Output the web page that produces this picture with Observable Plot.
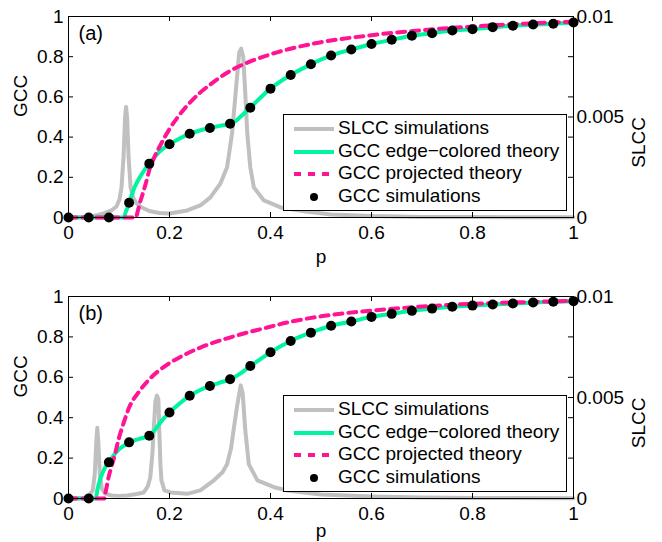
<!DOCTYPE html>
<html>
<head>
<meta charset="utf-8">
<script src="https://cdn.jsdelivr.net/npm/d3@7"></script>
<script src="https://cdn.jsdelivr.net/npm/@observablehq/plot@0.6"></script>
<style>
  body { margin: 0; background: #fff; font-family: "Liberation Sans", Arial, Helvetica, sans-serif; }
  #chart { width: 662px; }
  .panel { position: relative; width: 662px; height: 271px; }
  .legend { position: absolute; background: #fff; border: 1px solid #000; box-sizing: border-box; font-size: 19px; color: #000; }
  .legend svg { position: absolute; left: 0; top: 0; }
  .legend span { position: absolute; left: 54px; white-space: nowrap; line-height: 22px; }
</style>
</head>
<body>
<div id="chart"></div>
<script>
// ---------- shared axis values ----------
const xTicks = [0, 0.2, 0.4, 0.6, 0.8, 1];
const gccTicks = [0, 0.2, 0.4, 0.6, 0.8, 1];
const slccTicks = [0, 0.005, 0.01];
const slccMax = 0.01;   // right axis top
const gccMax = 1;       // left axis top
const axisTitles = {x: "p", left: "GCC", right: "SLCC"};
const legendLabels = ["SLCC simulations", "GCC edge\u2212colored theory", "GCC projected theory", "GCC simulations"];
const colors = { slcc: "#c0c0c0", edge: "#00f5a0", proj: "#ff1493", dots: "#000000" };

// ---------- panel (a) ----------
const simP = [0,0.04,0.08,0.12,0.16,0.20,0.24,0.28,0.32,0.36,0.40,0.44,0.48,0.52,0.56,0.60,0.64,0.68,0.72,0.76,0.80,0.84,0.88,0.92,0.96,1.00];
const aSimGCC = [0,0,0,0.073,0.268,0.364,0.417,0.445,0.467,0.546,0.641,0.709,0.762,0.806,0.836,0.863,0.884,0.904,0.917,0.93,0.937,0.947,0.954,0.96,0.964,0.97];

const aEdgeP   = [0,0.11,0.113,0.117,0.12,0.125,0.13,0.14,0.15,0.16,0.17,0.18,0.19,0.20,0.22,0.24,0.26,0.28,0.30,0.32,0.33,0.34,0.36,0.38,0.40,0.44,0.48,0.52,0.56,0.60,0.64,0.68,0.72,0.76,0.80,0.84,0.88,0.92,0.96,1.00];
const aEdgeGCC = [0,0,0.025,0.05,0.073,0.11,0.145,0.195,0.235,0.268,0.3,0.327,0.348,0.364,0.393,0.417,0.433,0.445,0.456,0.467,0.478,0.5,0.546,0.596,0.641,0.709,0.762,0.806,0.836,0.863,0.884,0.904,0.917,0.93,0.937,0.947,0.954,0.96,0.964,0.97];

const aProjP   = [0,0.134,0.1355,0.138,0.141,0.146,0.152,0.16,0.17,0.182,0.20,0.215,0.238,0.26,0.28,0.314,0.347,0.386,0.426,0.50,0.60,0.70,0.80,0.90,1.00];
const aProjGCC = [0,0,0.015,0.04,0.07,0.11,0.16,0.235,0.3,0.36,0.44,0.495,0.565,0.62,0.66,0.72,0.763,0.8,0.831,0.872,0.907,0.932,0.95,0.964,0.974];

const aSlccP = [0,0.03,0.05,0.07,0.085,0.095,0.101,0.105,0.109,0.112,0.114,0.116,0.119,0.123,0.128,0.135,0.145,0.16,0.18,0.20,0.235,0.261,0.281,0.301,0.314,0.324,0.332,0.338,0.342,0.346,0.35,0.354,0.36,0.367,0.387,0.42,0.47,0.52,0.60,0.70,0.80,1.00];
const aSlcc  = [0,0.00002,0.00008,0.0002,0.00035,0.00055,0.0009,0.0015,0.003,0.005,0.0055,0.005,0.003,0.0015,0.001,0.0007,0.0005,0.00032,0.00022,0.0002,0.00035,0.0006,0.001,0.0017,0.0025,0.0042,0.0065,0.0082,0.0084,0.008,0.0062,0.0042,0.0025,0.0015,0.00085,0.0005,0.0003,0.00015,0.00007,0.00003,0.00002,0.00001];

// ---------- panel (b) ----------
const bSimGCC = [0,0,0.179,0.278,0.311,0.426,0.509,0.557,0.59,0.656,0.724,0.78,0.821,0.855,0.876,0.899,0.914,0.929,0.94,0.949,0.955,0.96,0.965,0.97,0.974,0.977];

const bEdgeP   = [0,0.054,0.057,0.062,0.068,0.074,0.08,0.09,0.10,0.11,0.12,0.14,0.16,0.17,0.18,0.20,0.22,0.24,0.26,0.28,0.30,0.32,0.34,0.36,0.38,0.40,0.44,0.48,0.52,0.56,0.60,0.64,0.68,0.72,0.76,0.80,0.84,0.88,0.92,0.96,1.00];
const bEdgeGCC = [0,0,0.04,0.09,0.13,0.16,0.179,0.215,0.243,0.262,0.278,0.295,0.311,0.335,0.37,0.426,0.47,0.509,0.536,0.557,0.574,0.59,0.618,0.656,0.69,0.724,0.78,0.821,0.855,0.876,0.899,0.914,0.929,0.94,0.949,0.955,0.96,0.965,0.97,0.974,0.977];

const bProjP   = [0,0.071,0.0725,0.075,0.078,0.083,0.09,0.10,0.11,0.12,0.14,0.16,0.18,0.20,0.23,0.26,0.30,0.34,0.38,0.44,0.50,0.60,0.70,0.80,0.90,1.00];
const bProjGCC = [0,0,0.02,0.05,0.09,0.14,0.2,0.3,0.38,0.45,0.53,0.59,0.635,0.67,0.712,0.746,0.782,0.812,0.838,0.875,0.902,0.93,0.95,0.964,0.972,0.978];

const bSlccP = [0,0.03,0.04,0.048,0.052,0.055,0.057,0.059,0.062,0.066,0.072,0.085,0.10,0.116,0.135,0.149,0.157,0.162,0.166,0.169,0.172,0.175,0.178,0.18,0.182,0.184,0.19,0.202,0.235,0.261,0.288,0.305,0.314,0.322,0.327,0.334,0.341,0.345,0.35,0.357,0.374,0.407,0.433,0.50,0.60,0.70,0.80,1.00];
const bSlcc  = [0,0.00003,0.0001,0.0004,0.0012,0.0028,0.0035,0.0028,0.0012,0.0005,0.00025,0.00015,0.00013,0.00015,0.00022,0.0003,0.0006,0.00105,0.0022,0.0035,0.0048,0.0051,0.0049,0.0032,0.0017,0.0009,0.0004,0.0003,0.00023,0.0004,0.0009,0.0013,0.0017,0.0025,0.0034,0.0046,0.0056,0.0052,0.0034,0.0017,0.0009,0.00056,0.0004,0.0002,0.0001,0.00005,0.00003,0.00001];

// ---------- helpers ----------
const zip = (xs, ys) => xs.map((p, i) => ({p, v: ys[i]}));
const FONT = "'Liberation Sans', Arial, Helvetica, sans-serif";
const FS = 19;
const dash = "8,6";

function makePanel(tag, slcc, edge, proj, sim, marginTop, marginBottom, pOffset) {
  const k = gccMax / slccMax;
  return Plot.plot({
    width: 662,
    height: 271,
    marginLeft: 68,
    marginRight: 89,
    marginTop,
    marginBottom,
    x: {domain: [0, 1]},
    y: {domain: [0, gccMax]},
    style: {fontFamily: FONT, fontSize: FS + "px", color: "#000", background: "#fff", overflow: "visible"},
    marks: [
      Plot.line(slcc, {x: "p", y: d => d.v * k, stroke: colors.slcc, strokeWidth: 4, strokeLinejoin: "round"}),
      Plot.line(edge, {x: "p", y: "v", stroke: colors.edge, strokeWidth: 4, curve: "monotone-x"}),
      Plot.line(proj, {x: "p", y: "v", stroke: colors.proj, strokeWidth: 4, strokeDasharray: dash, curve: "monotone-x"}),
      Plot.dot(sim, {x: "p", y: "v", r: 5, fill: colors.dots, stroke: null}),
      Plot.frame({stroke: "#000", strokeWidth: 1}),
      // inward tick marks (MATLAB style box)
      Plot.ruleX(xTicks, {x: d => d, y1: 0, y2: 0.025, stroke: "#000"}),
      Plot.ruleX(xTicks, {x: d => d, y1: gccMax, y2: gccMax * 0.975, stroke: "#000"}),
      Plot.ruleY(gccTicks, {y: d => d, x1: 0, x2: 0.01, stroke: "#000"}),
      Plot.ruleY(gccTicks, {y: d => d, x1: 1, x2: 0.99, stroke: "#000"}),
      Plot.ruleY(slccTicks, {y: d => d * k, x1: 1, x2: 0.99, stroke: "#000"}),
      Plot.axisX(xTicks, {anchor: "bottom", tickSize: 0, tickPadding: 8, tickFormat: d => String(d), label: null}),
      Plot.axisY(gccTicks, {anchor: "left", tickSize: 0, tickPadding: 5, tickFormat: d => String(d), label: null}),
      Plot.axisY(slccTicks.map(d => d * k), {anchor: "right", tickSize: 0, tickPadding: 3, tickFormat: (d, i) => String(slccTicks[i]), label: null}),
      Plot.text([axisTitles.x], {frameAnchor: "bottom", dy: pOffset, text: d => d, fontSize: FS, lineAnchor: "middle"}),
      Plot.text([axisTitles.left], {frameAnchor: "left", dx: -48, text: d => d, fontSize: FS, rotate: -90, lineAnchor: "middle"}),
      Plot.text([axisTitles.right], {frameAnchor: "right", dx: 65, text: d => d, fontSize: FS, rotate: -90, lineAnchor: "middle"}),
      Plot.text([tag], {frameAnchor: "top-left", dx: 10, dy: 9, text: d => d, fontSize: FS + 1, lineAnchor: "top"})
    ]
  });
}

function makeLegend(top) {
  const div = document.createElement("div");
  div.className = "legend";
  Object.assign(div.style, {left: "283px", top: top + "px", width: "284px", height: "97px"});
  const rows = [14, 37, 59, 82];
  const svgNS = "http://www.w3.org/2000/svg";
  const svg = document.createElementNS(svgNS, "svg");
  svg.setAttribute("width", 60); svg.setAttribute("height", 95);
  const mk = (name, attrs) => { const e = document.createElementNS(svgNS, name); for (const a in attrs) e.setAttribute(a, attrs[a]); svg.appendChild(e); };
  mk("line", {x1: 10, x2: 50, y1: rows[0], y2: rows[0], stroke: colors.slcc, "stroke-width": 4});
  mk("line", {x1: 10, x2: 50, y1: rows[1], y2: rows[1], stroke: colors.edge, "stroke-width": 4});
  mk("line", {x1: 10, x2: 50, y1: rows[2], y2: rows[2], stroke: colors.proj, "stroke-width": 4, "stroke-dasharray": "7,7"});
  mk("circle", {cx: 30, cy: rows[3], r: 4, fill: colors.dots});
  div.appendChild(svg);
  legendLabels.forEach((t, i) => {
    const s = document.createElement("span");
    s.textContent = t;
    s.style.top = (rows[i] - 12) + "px";
    div.appendChild(s);
  });
  return div;
}

const root = document.getElementById("chart");
const pa = document.createElement("div"); pa.className = "panel";
pa.appendChild(makePanel("(a)", zip(aSlccP, aSlcc), zip(aEdgeP, aEdgeGCC), zip(aProjP, aProjGCC), zip(simP, aSimGCC), 16, 54, 39));
pa.appendChild(makeLegend(114));
const pb = document.createElement("div"); pb.className = "panel";
pb.appendChild(makePanel("(b)", zip(bSlccP, bSlcc), zip(bEdgeP, bEdgeGCC), zip(bProjP, bProjGCC), zip(simP, bSimGCC), 25, 44, 32));
pb.appendChild(makeLegend(124));
root.appendChild(pa);
root.appendChild(pb);
</script>
</body>
</html>
